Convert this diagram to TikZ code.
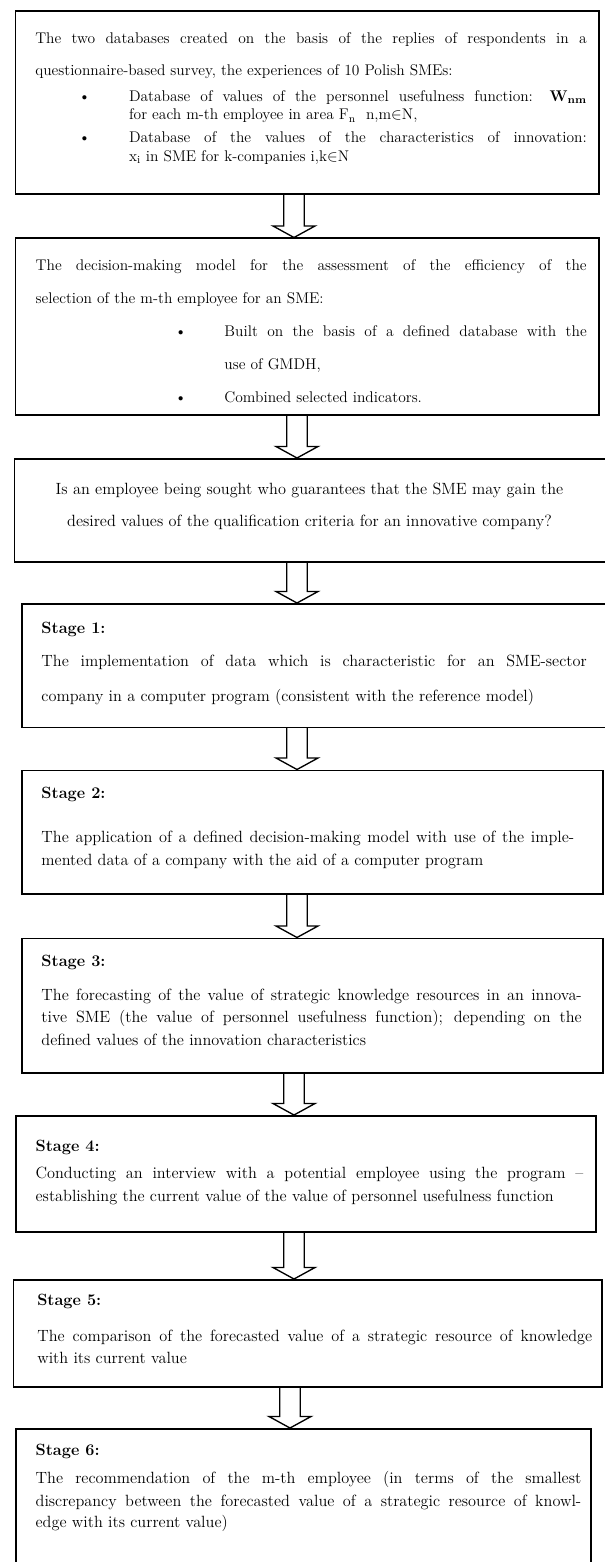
\documentclass[tikz,border=0pt]{standalone}
\usetikzlibrary{calc}
\newdimen\pxu \pxu=0.75pt
\newcommand\smallf{\fontsize{11.6}{13}\selectfont}
\newcommand\bigf{\fontsize{12.2}{14}\selectfont}
\newcommand\jline[2]{\makebox[#1\pxu][s]{#2}}
\newcommand\barr[3]{%
  \draw[barrow] ($(#1.south -| #3)+(-10.25,0)$) -- ($(#2.north -| #3)+(-10.25,-11.5)$)
    -- ++(-10.75,0) -- (#2.north -| #3) -- ++(21,-11.5) -- ++(-10.75,0)
    -- ($(#1.south -| #3)+(10.25,0)$);}
\tikzset{
  flowbox/.style={draw, line width=1.3pt, rectangle, inner sep=0pt, anchor=north west},
  txt/.style={inner sep=0pt, anchor=base west},
  sm/.style={txt, font=\smallf},
  bg/.style={txt, font=\bigf},
  dot/.style={inner sep=0pt, anchor=base, font=\smallf},
  barrow/.style={draw, line width=1pt, line join=miter}
}
\begin{document}
\begin{tikzpicture}[x=0.75pt, y=-0.75pt]
\useasboundingbox (0,0) rectangle (604,1562);
% boxes
\node[flowbox, minimum width=583.5*0.75pt, minimum height=183*0.75pt] (b1) at (14.5,10) {};
\node[flowbox, minimum width=583.5*0.75pt, minimum height=176.5*0.75pt] (b2) at (14.5,237.5) {};
\node[flowbox, minimum width=594*0.75pt, minimum height=103*0.75pt] (b3) at (13.5,458) {};
\node[flowbox, minimum width=587*0.75pt, minimum height=123.5*0.75pt] (s1) at (21,603) {};
\node[flowbox, minimum width=581*0.75pt, minimum height=123.5*0.75pt] (s2) at (21,769.5) {};
\node[flowbox, minimum width=581*0.75pt, minimum height=134.5*0.75pt] (s3) at (21,937.5) {};
\node[flowbox, minimum width=579.6*0.75pt, minimum height=116*0.75pt] (s4) at (15.4,1115) {};
\node[flowbox, minimum width=588.5*0.75pt, minimum height=107*0.75pt] (s5) at (12.5,1279) {};
\node[flowbox, minimum width=575*0.75pt, minimum height=150*0.75pt] (s6) at (15.4,1428) {};
% arrow axes
\coordinate (ax1) at (294,0);
\coordinate (ax2) at (297,0);
\coordinate (ax3) at (297,0);
\coordinate (ax4) at (297,0);
\coordinate (ax5) at (297,0);
\coordinate (ax6) at (294,0);
\coordinate (ax7) at (294,0);
\coordinate (ax8) at (290,0);
\barr{b1}{b2}{ax1}
\barr{b2}{b3}{ax2}
\barr{b3}{s1}{ax3}
\barr{s1}{s2}{ax4}
\barr{s2}{s3}{ax5}
\barr{s3}{s4}{ax6}
\barr{s4}{s5}{ax7}
\barr{s5}{s6}{ax8}
% box 1 text
\node[sm] (t1a) at (35,44) {\jline{551.5}{The two databases created on the basis of the replies of respondents in a}};
\node[sm] (t1b) at (35,76) {questionnaire-based survey, the experiences of 10 Polish SMEs:};
\node[dot] (d1a) at (84.6,101.5) {\textbullet};
\node[sm] (t1c) at (128.8,101.5) {\jline{457.7}{Database of values of the personnel usefulness function: \textbf{W}\textsubscript{\textbf{nm}}}};
\node[sm] (t1d) at (128.8,120) {for each m-th employee in area F\textsubscript{n}\ \ n,m$\in$N,};
\node[dot] (d1b) at (84.6,143) {\textbullet};
\node[sm] (t1e) at (128.8,143) {\jline{457.7}{Database of the values of the characteristics of innovation:}};
\node[sm] (t1f) at (128.8,161.5) {x\textsubscript{i} in SME for k-companies i,k$\in$N};
% box 2 text
\node[sm] (t2a) at (35.4,270) {\jline{551}{The decision-making model for the assessment of the efficiency of the}};
\node[sm] (t2b) at (35.4,303) {selection of the m-th employee for an SME:};
\node[dot] (d2a) at (180.8,336.5) {\textbullet};
\node[sm] (t2c) at (224.2,336.5) {\jline{362.3}{Built on the basis of a defined database with the}};
\node[sm] (t2d) at (224.2,369.5) {use of GMDH,};
\node[dot] (d2b) at (180.8,402) {\textbullet};
\node[sm] (t2e) at (224.2,402) {Combined selected indicators.};
% box 3 text
\node[bg, anchor=base] (t3a) at (309.5,494) {Is an employee being sought who guarantees that the SME may gain the};
\node[bg, anchor=base] (t3b) at (309.5,526.5) {desired values of the qualification criteria for an innovative company?};
% stage 1
\node[bg] (l1) at (41.2,633) {\textbf{Stage 1:}};
\node[bg] (s1a) at (41.2,666.5) {\jline{545.3}{The implementation of data which is characteristic for an SME-sector}};
\node[bg] (s1b) at (41.2,701.5) {company in a computer program (consistent with the reference model)};
% stage 2
\node[bg] (l2) at (41.2,798) {\textbf{Stage 2:}};
\node[bg] (s2a) at (41.2,842) {\jline{532.8}{The application of a defined decision-making model with use of the imple-}};
\node[bg] (s2b) at (41.2,865.5) {mented data of a company with the aid of a computer program};
% stage 3
\node[bg] (l3) at (41.2,966) {\textbf{Stage 3:}};
\node[bg] (s3a) at (41.2,1000) {\jline{540.3}{The forecasting of the value of strategic knowledge resources in an innova-}};
\node[bg] (s3b) at (41.2,1022.7) {\jline{540.3}{tive SME (the value of personnel usefulness function); depending on the}};
\node[bg] (s3c) at (41.2,1045) {defined values of the innovation characteristics};
% stage 4
\node[bg] (l4) at (35.4,1151.7) {\textbf{Stage 4:}};
\node[bg] (s4a) at (35.4,1178.3) {\jline{547.6}{Conducting an interview with a potential employee using the program \textendash}};
\node[bg] (s4b) at (35.4,1201.7) {establishing the current value of the value of personnel usefulness function};
% stage 5
\node[bg] (l5) at (37,1305) {\textbf{Stage 5:}};
\node[bg] (s5a) at (37,1341.5) {\jline{555}{The comparison of the forecasted value of a strategic resource of knowledge}};
\node[bg] (s5b) at (37,1363) {with its current value};
% stage 6
\node[bg] (l6) at (35.4,1455) {\textbf{Stage 6:}};
\node[bg] (s6a) at (35.4,1483) {\jline{545.6}{The recommendation of the m-th employee (in terms of the smallest}};
\node[bg] (s6b) at (35.4,1506.7) {\jline{545.6}{discrepancy between the forecasted value of a strategic resource of knowl-}};
\node[bg] (s6c) at (35.4,1527.7) {edge with its current value)};
\end{tikzpicture}
\end{document}
